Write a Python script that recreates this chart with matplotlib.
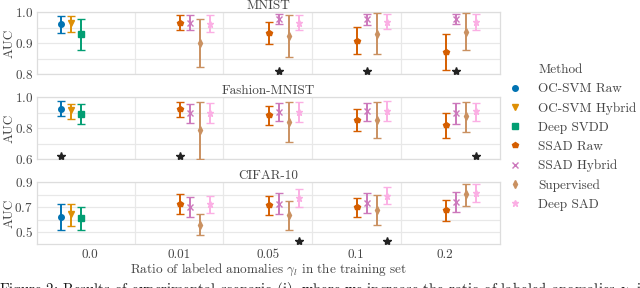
import numpy as np
import matplotlib
matplotlib.use("Agg")
import matplotlib.pyplot as plt
from matplotlib.lines import Line2D

nan = np.nan

ratios = ["0.0", "0.01", "0.05", "0.1", "0.2"]
methods = ["OC-SVM Raw", "OC-SVM Hybrid", "Deep SVDD", "SSAD Raw",
           "SSAD Hybrid", "Supervised", "Deep SAD"]
colors = ["#0173B2", "#DE8F05", "#029E73", "#D55E00", "#CC78BC", "#CA9161", "#FBAFE4"]
markers = ["o", "v", "s", "p", "x", "d", "*"]

# rows: methods, columns: ratios
mnist_mean = [[0.961, nan, nan, nan, nan],
              [0.966, nan, nan, nan, nan],
              [0.929, nan, nan, nan, nan],
              [nan, 0.966, 0.934, 0.908, 0.872],
              [nan, 0.966, 0.978, 0.978, 0.978],
              [nan, 0.902, 0.924, 0.931, 0.938],
              [nan, 0.962, 0.966, 0.969, 0.969]]
mnist_low = [[0.932, nan, nan, nan, nan],
             [0.937, nan, nan, nan, nan],
             [0.878, nan, nan, nan, nan],
             [nan, 0.942, 0.897, 0.864, 0.814],
             [nan, 0.944, 0.962, 0.959, 0.963],
             [nan, 0.822, 0.856, 0.864, 0.879],
             [nan, 0.936, 0.942, 0.945, 0.944]]
mnist_high = [[0.989, nan, nan, nan, nan],
              [0.989, nan, nan, nan, nan],
              [0.977, nan, nan, nan, nan],
              [nan, 0.990, 0.969, 0.951, 0.929],
              [nan, 0.992, 0.994, 0.994, 0.994],
              [nan, 0.980, 0.992, 0.997, 0.997],
              [nan, 0.992, 0.992, 0.994, 0.994]]

fmnist_mean = [[0.925, nan, nan, nan, nan],
               [0.918, nan, nan, nan, nan],
               [0.895, nan, nan, nan, nan],
               [nan, 0.923, 0.884, 0.856, 0.819],
               [nan, 0.897, 0.903, 0.912, 0.897],
               [nan, 0.787, 0.843, 0.856, 0.877],
               [nan, 0.897, 0.903, 0.914, 0.912]]
fmnist_low = [[0.880, nan, nan, nan, nan],
              [0.862, nan, nan, nan, nan],
              [0.830, nan, nan, nan, nan],
              [nan, 0.871, 0.819, 0.781, 0.735],
              [nan, 0.832, 0.845, 0.849, 0.828],
              [nan, 0.602, 0.714, 0.735, 0.778],
              [nan, 0.837, 0.839, 0.849, 0.849]]
fmnist_high = [[0.974, nan, nan, nan, nan],
               [0.957, nan, nan, nan, nan],
               [0.955, nan, nan, nan, nan],
               [nan, 0.970, 0.946, 0.927, 0.901],
               [nan, 0.955, 0.961, 0.966, 0.963],
               [nan, 0.970, 0.970, 0.970, 0.970],
               [nan, 0.963, 0.970, 0.974, 0.966]]

cifar_mean = [[0.620, nan, nan, nan, nan],
              [0.647, nan, nan, nan, nan],
              [0.612, nan, nan, nan, nan],
              [nan, 0.729, 0.713, 0.700, 0.673],
              [nan, 0.703, 0.729, 0.737, 0.743],
              [nan, 0.556, 0.636, 0.679, 0.804],
              [nan, 0.724, 0.772, 0.793, 0.817]]
cifar_low = [[0.513, nan, nan, nan, nan],
             [0.545, nan, nan, nan, nan],
             [0.513, nan, nan, nan, nan],
             [nan, 0.647, 0.633, 0.620, 0.585],
             [nan, 0.620, 0.644, 0.655, 0.663],
             [nan, 0.471, 0.519, 0.553, 0.705],
             [nan, 0.649, 0.703, 0.724, 0.745]]
cifar_high = [[0.724, nan, nan, nan, nan],
              [0.727, nan, nan, nan, nan],
              [0.700, nan, nan, nan, nan],
              [nan, 0.807, 0.793, 0.777, 0.759],
              [nan, 0.783, 0.815, 0.817, 0.823],
              [nan, 0.641, 0.748, 0.796, 0.889],
              [nan, 0.793, 0.849, 0.865, 0.887]]

# star annotations: (ratio index, method index) and their y value
mnist_stars = [(2, 4), (3, 4), (4, 4)]
mnist_star_y = 0.811
fmnist_stars = [(0, 0), (1, 3), (4, 6)]
fmnist_star_y = 0.624
cifar_stars = [(2, 6), (3, 6)]
cifar_star_y = 0.430

datasets = ["MNIST", "Fashion-MNIST", "CIFAR-10"]
ylims = [(0.8, 1.0), (0.6, 1.0), (0.4, 0.9)]
yticks = [[0.8, 0.9, 1.0], [0.6, 0.8, 1.0], [0.5, 0.7, 0.9]]
ygrid = [[0.85, 0.95], [0.7, 0.9], [0.6, 0.8]]

plt.rcParams["font.family"] = ["cmr10", "DejaVu Serif"]
plt.rcParams["mathtext.fontset"] = "cm"
plt.rcParams["axes.formatter.use_mathtext"] = True
plt.rcParams["axes.unicode_minus"] = False

TXT = "0.27"
FS = 9.5
GRID = "#e8e8e8"

fig = plt.figure(figsize=(6.4, 2.88), dpi=100)
W, H = 640.0, 288.0
ax_px = [(12.3, 74.3), (97.3, 159.3), (182.3, 244.3)]
left_px, right_px = 37.0, 500.0

all_mean = [mnist_mean, fmnist_mean, cifar_mean]
all_low = [mnist_low, fmnist_low, cifar_low]
all_high = [mnist_high, fmnist_high, cifar_high]
all_stars = [mnist_stars, fmnist_stars, cifar_stars]
all_star_y = [mnist_star_y, fmnist_star_y, cifar_star_y]

step = 0.113
x = np.arange(len(ratios))

for k in range(3):
    top, bot = ax_px[k]
    ax = fig.add_axes([left_px / W, (H - bot) / H, (right_px - left_px) / W, (bot - top) / H])
    ax.set_xlim(-0.6, 4.62)
    ax.set_ylim(*ylims[k])
    ax.set_yticks(yticks[k])
    ax.set_yticks(ygrid[k], minor=True)
    ax.set_xticks(x)
    ax.set_xticks(x[:-1] + 0.5, minor=True)
    ax.grid(True, which="both", color=GRID, linewidth=0.9)
    ax.grid(False, which="major", axis="x")
    ax.set_axisbelow(True)
    ax.tick_params(which="both", length=0, labelsize=FS, colors=TXT, pad=3)
    for s in ax.spines.values():
        s.set_color("#dddddd")
        s.set_linewidth(0.9)
    mean = np.array(all_mean[k])
    lo = np.array(all_low[k])
    hi = np.array(all_high[k])
    for i in range(len(methods)):
        xi = x + (i - 2.9) * step
        m = ~np.isnan(mean[i])
        ax.errorbar(xi[m], mean[i][m],
                    yerr=[mean[i][m] - lo[i][m], hi[i][m] - mean[i][m]],
                    fmt=markers[i], color=colors[i], ms=4 if markers[i] != "*" else 5,
                    mew=1.0, elinewidth=1.4, capsize=3.2, capthick=1.4,
                    linestyle="none", zorder=3)
    for (r, mi) in all_stars[k]:
        ax.plot(r + (mi - 2.9) * step, all_star_y[k], marker="*", color="#222222",
                ms=6, linestyle="none", zorder=4)
    ax.set_title(datasets[k], fontsize=FS, color=TXT, pad=1.5)
    ax.set_ylabel("AUC", fontsize=FS, color=TXT)
    ax.yaxis.set_label_coords(-0.047, 0.5)
    if k < 2:
        ax.set_xticklabels([])
    else:
        ax.set_xticklabels(ratios)
        ax.set_xlabel(r"Ratio of labeled anomalies $\gamma_l$ in the training set",
                      fontsize=FS, color=TXT, labelpad=1)

handles = [Line2D([], [], linestyle="none", marker="")]
labels = ["Method"]
for i in range(len(methods)):
    handles.append(Line2D([], [], linestyle="none", marker=markers[i], color=colors[i],
                          ms=4 if markers[i] != "*" else 5, mew=1.0))
    labels.append(methods[i])
leg = fig.legend(handles, labels, loc="upper left", bbox_to_anchor=(508.0 / W, (H - 64.0) / H),
                 frameon=False, fontsize=FS, handlelength=1.0, handletextpad=1.3,
                 borderpad=0, borderaxespad=0, labelspacing=0.52)
for t in leg.get_texts():
    t.set_color(TXT)

fig.text(-0.002, -0.021,
         r"Figure 2: Results of experimental scenario (i), where we increase the ratio of labeled anomalies $\gamma_l$ in the training set.",
         fontsize=10.7, color="0.1", ha="left", va="baseline")

fig.savefig("out.png", dpi=100)
